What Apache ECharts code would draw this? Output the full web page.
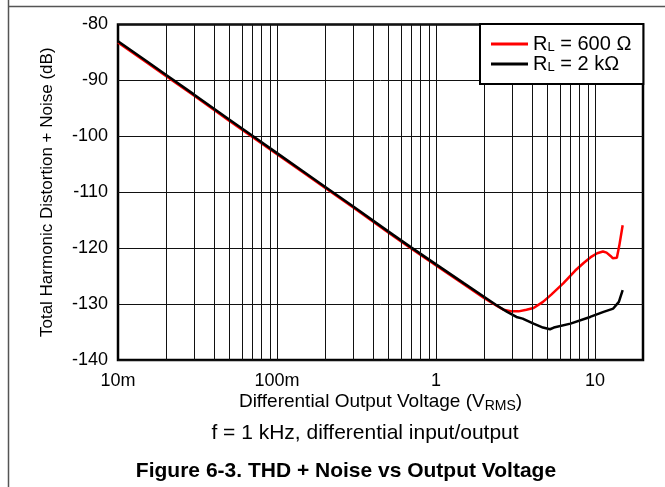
<!DOCTYPE html>
<html>
<head>
<meta charset="utf-8">
<script src="https://cdn.jsdelivr.net/npm/echarts@6/dist/echarts.min.js"></script>
<style>
html,body{margin:0;padding:0;background:#fff;}
#chart{width:665px;height:487px;}
</style>
</head>
<body>
<div id="chart"></div>
<script>
// ---- data ----
const volts2k = [0.01, 0.015, 0.02, 0.03, 0.05, 0.07, 0.1, 0.15, 0.2, 0.3, 0.5, 0.7, 1, 1.5, 2, 2.4, 2.8, 3.2, 3.5, 4.1, 4.7, 5.2, 5.5, 7, 9.3, 11.3, 13.0, 14.1, 14.9];
const thd2k   = [-83.0, -86.5, -89.0, -92.5, -97.0, -99.9, -103.0, -106.5, -109.0, -112.5, -117.0, -119.9, -122.9, -126.3, -128.7, -130.2, -131.4, -132.3, -132.6, -133.5, -134.2, -134.5, -134.2, -133.5, -132.3, -131.4, -130.8, -129.6, -127.5];
const volts600 = [0.01, 0.015, 0.02, 0.03, 0.05, 0.07, 0.1, 0.15, 0.2, 0.3, 0.5, 0.7, 1, 1.5, 2, 2.4, 2.65, 3.0, 3.3, 3.7, 4.1, 4.7, 5.3, 6.3, 7.5, 8.5, 9.5, 10.3, 11.2, 11.8, 12.5, 12.9, 13.7, 14.2, 14.9];
const thd600   = [-83.2, -86.7, -89.2, -92.7, -97.2, -100.1, -103.2, -106.7, -109.2, -112.7, -117.2, -120.1, -123.1, -126.5, -128.9, -130.3, -131.0, -131.3, -131.3, -131.0, -130.7, -129.6, -128.3, -126.3, -124.0, -122.6, -121.5, -120.9, -120.6, -120.8, -121.4, -121.8, -121.7, -119.5, -115.9];
const gridVolts = [0.02,0.03,0.04,0.05,0.06,0.07,0.08,0.09,0.1,0.2,0.3,0.4,0.5,0.6,0.7,0.8,0.9,1,2,3,4,5,6,7,8,9,10];
const xTickLabels = {'-2':'10m','-1':'100m','0':'1','1':'10'};
const seriesNames = ['R_L = 600 Ω', 'R_L = 2 kΩ'];
const legendRich = {'R_L = 600 Ω':'{r|R}{s|L}{r| = 600 Ω}', 'R_L = 2 kΩ':'{r|R}{s|L}{r| = 2 kΩ}'};

const FONT = "'Liberation Sans', Arial, Helvetica, sans-serif";
const chart = echarts.init(document.getElementById('chart'), null, {renderer:'canvas'});

const option = {
  animation: false,
  backgroundColor: '#fff',
  textStyle: {fontFamily: FONT, color: '#000'},
  grid: {left: 118, right: 22, top: 24.5, bottom: 127, show: true, borderColor: '#000', borderWidth: 2.5, backgroundColor: 'transparent', containLabel: false},
  xAxis: {
    type: 'log', logBase: 10, min: 0.01, max: 20,
    name: '{a|Differential Output Voltage (V}{b|RMS}{a|)}',
    nameLocation: 'middle', nameGap: 31, nameMoveOverlap: false,
    nameTextStyle: {rich: {
      a: {fontSize: 19, fontFamily: FONT, color: '#000', lineHeight: 22},
      b: {fontSize: 14, fontFamily: FONT, color: '#000', lineHeight: 12, verticalAlign: 'bottom'}
    }},
    axisLine: {show: false}, axisTick: {show: false}, splitLine: {show: false},
    axisLabel: {
      fontSize: 18, fontFamily: FONT, color: '#000', margin: 12,
      showMaxLabel: false,
      formatter: function (v) {
        const l = Math.log10(v);
        const r = Math.round(l);
        if (Math.abs(l - r) < 1e-6 && xTickLabels[String(r)] !== undefined) return xTickLabels[String(r)];
        return '';
      }
    }
  },
  yAxis: {
    type: 'value', min: -140, max: -80, interval: 10,
    name: 'Total Harmonic Distortion + Noise (dB)',
    nameLocation: 'middle', nameGap: 62, nameMoveOverlap: false,
    nameTextStyle: {fontSize: 17, fontFamily: FONT, color: '#000'},
    axisLine: {show: false}, axisTick: {show: false},
    axisLabel: {fontSize: 18, fontFamily: FONT, color: '#000', margin: 10},
    splitLine: {show: true, lineStyle: {color: '#111', width: 1}}
  },
  legend: {
    data: seriesNames,
    orient: 'vertical', left: 480, top: 24,
    padding: [10, 12, 10, 11], itemGap: 0,
    backgroundColor: '#fff', borderColor: '#000', borderWidth: 2,
    icon: 'rect', itemWidth: 37, itemHeight: 3,
    formatter: function (n) { return legendRich[n]; },
    textStyle: {rich: {
      r: {fontSize: 20, fontFamily: FONT, color: '#000', lineHeight: 19},
      s: {fontSize: 13, fontFamily: FONT, color: '#000', lineHeight: 10, verticalAlign: 'bottom'}
    }},
    selectedMode: false, z: 10
  },
  series: [
    {
      name: 'gridlines', type: 'line', data: [], silent: true, z: 1,
      markLine: {
        silent: true, symbol: ['none','none'], animation: false,
        label: {show: false},
        lineStyle: {color: '#111', width: 1, type: 'solid'},
        emphasis: {disabled: true},
        data: gridVolts.map(v => ({xAxis: v}))
      }
    },
    {
      name: seriesNames[0], type: 'line', showSymbol: false, symbol: 'none', z: 3,
      lineStyle: {color: '#ff0000', width: 2.5}, itemStyle: {color: '#ff0000'},
      data: volts600.map((v, i) => [v, thd600[i]])
    },
    {
      name: seriesNames[1], type: 'line', showSymbol: false, symbol: 'none', z: 4,
      lineStyle: {color: '#000', width: 2.5}, itemStyle: {color: '#000'},
      data: volts2k.map((v, i) => [v, thd2k[i]])
    }
  ],
  graphic: [
    {type: 'line', silent: true, shape: {x1: 8.5, y1: 0, x2: 8.5, y2: 487}, style: {stroke: '#555', lineWidth: 1.5}},
    {type: 'line', silent: true, shape: {x1: 8, y1: 6.5, x2: 665, y2: 6.5}, style: {stroke: '#555', lineWidth: 1.5}},
    {type: 'text', silent: true, x: 365, y: 433, style: {text: 'f = 1 kHz, differential input/output', font: '21px ' + FONT, fill: '#000', align: 'center', verticalAlign: 'middle', textAlign: 'center', textVerticalAlign: 'middle'}},
    {type: 'text', silent: true, x: 346, y: 471, style: {text: 'Figure 6-3. THD + Noise vs Output Voltage', font: 'bold 21px ' + FONT, fill: '#000', align: 'center', verticalAlign: 'middle', textAlign: 'center', textVerticalAlign: 'middle'}}
  ]
};
chart.setOption(option);
</script>
</body>
</html>
